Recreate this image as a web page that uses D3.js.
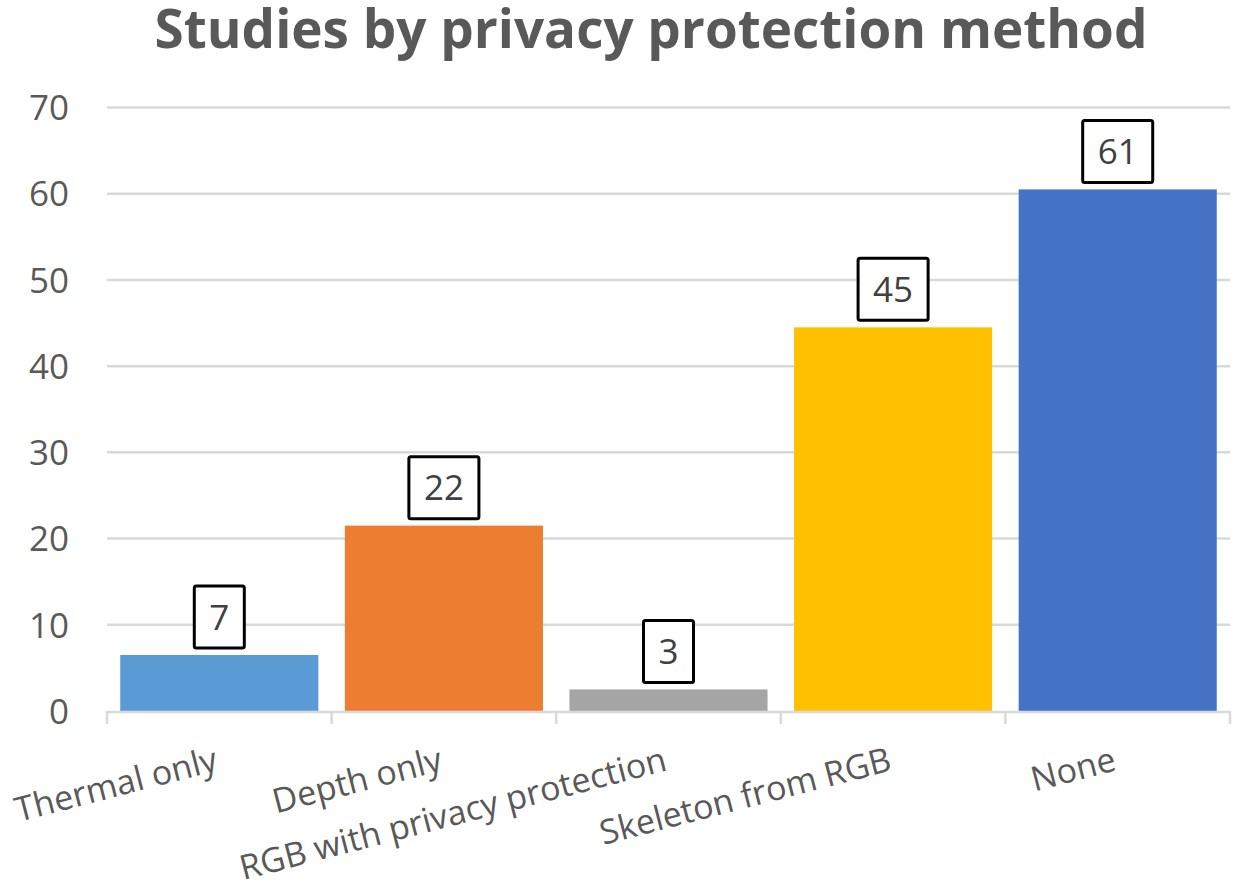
<!DOCTYPE html>
<html>
<head>
<meta charset="utf-8">
<script src="https://cdn.jsdelivr.net/npm/d3@7"></script>
<style>
  html, body { margin: 0; padding: 0; background: #ffffff; }
  svg { display: block; font-family: "Open Sans", "Liberation Sans", sans-serif; }
</style>
</head>
<body>
<svg id="chart" width="1237" height="886"></svg>
<script>
// ---- data ----
const categories = ["Thermal only", "Depth only", "RGB with privacy protection", "Skeleton from RGB", "None"];
const values = [6.5, 21.5, 2.5, 44.5, 60.5];
const labels = ["7", "22", "3", "45", "61"];
const colors = ["#5B9BD5", "#ED7D31", "#A5A5A5", "#FFC000", "#4472C4"];
const yTicks = [0, 10, 20, 30, 40, 50, 60, 70];
const title = "Studies by privacy protection method";

// ---- layout ----
const svg = d3.select("#chart");
const plot = { left: 107, right: 1230, top: 107.5, bottom: 711 };

const x = d3.scaleBand()
  .domain(categories)
  .range([plot.left, plot.right])
  .paddingInner(0.118)
  .paddingOuter(0.059);

const y = d3.scaleLinear()
  .domain([0, 70])
  .range([plot.bottom, plot.top]);

const grey = "#595959";
const lineGrey = "#D9D9D9";

// title
svg.append("text")
  .attr("x", 651)
  .attr("y", 48)
  .attr("text-anchor", "middle")
  .attr("font-size", 53)
  .attr("font-weight", "bold")
  .attr("fill", grey)
  .text(title);

// gridlines
svg.append("g")
  .selectAll("line")
  .data(yTicks.filter(t => t !== 0))
  .join("line")
  .attr("x1", plot.left)
  .attr("x2", plot.right)
  .attr("y1", d => y(d))
  .attr("y2", d => y(d))
  .attr("stroke", lineGrey)
  .attr("stroke-width", 2.5);

// y axis labels
const yAxis = d3.axisLeft(y).tickValues(yTicks).tickSize(0).tickPadding(0);
const yG = svg.append("g")
  .attr("transform", `translate(${69},0)`)
  .call(yAxis);
yG.select(".domain").remove();
yG.selectAll("text")
  .attr("font-size", 35)
  .attr("font-family", "'Open Sans', sans-serif")
  .attr("fill", grey)
  .attr("dy", "0.35em");

// bars
svg.append("g")
  .selectAll("rect")
  .data(categories)
  .join("rect")
  .attr("x", d => x(d))
  .attr("width", x.bandwidth())
  .attr("y", (d, i) => y(values[i]))
  .attr("height", (d, i) => y(0) - y(values[i]))
  .attr("fill", (d, i) => colors[i]);

// x axis line and ticks
const xAxisG = svg.append("g");
xAxisG.append("line")
  .attr("x1", plot.left)
  .attr("x2", plot.right)
  .attr("y1", y(0) + 1)
  .attr("y2", y(0) + 1)
  .attr("stroke", lineGrey)
  .attr("stroke-width", 2.5);
const tickXs = categories.map(c => x(c) - x.step() * x.paddingInner() / 2).concat([plot.right]);
tickXs[0] = plot.left;
xAxisG.selectAll("line.tick")
  .data(tickXs)
  .join("line")
  .attr("class", "tick")
  .attr("x1", d => d)
  .attr("x2", d => d)
  .attr("y1", y(0))
  .attr("y2", y(0) + 13)
  .attr("stroke", lineGrey)
  .attr("stroke-width", 2.5);

// x labels (rotated)
svg.append("g")
  .selectAll("text")
  .data(categories)
  .join("text")
  .attr("transform", d => `translate(${x(d) + x.bandwidth() / 2},${770}) rotate(-14.5)`)
  .attr("text-anchor", "end")
  .attr("font-size", 34)
  .attr("fill", grey)
  .text(d => d);

// data labels in boxes
const lblG = svg.append("g")
  .selectAll("g")
  .data(categories)
  .join("g");
lblG.each(function (d, i) {
  const g = d3.select(this);
  const cx = x(d) + x.bandwidth() / 2;
  const boxH = 62;
  const bottom = y(values[i]) - 7;
  const t = g.append("text")
    .attr("x", cx)
    .attr("y", bottom - boxH / 2)
    .attr("dy", "0.36em")
    .attr("text-anchor", "middle")
    .attr("font-size", 35)
    .attr("fill", "#404040")
    .text(labels[i]);
  const tw = t.node().getComputedTextLength();
  const bw = tw + 30;
  g.insert("rect", "text")
    .attr("x", cx - bw / 2)
    .attr("y", bottom - boxH)
    .attr("width", bw)
    .attr("height", boxH)
    .attr("rx", 2)
    .attr("fill", "#ffffff")
    .attr("stroke", "#000000")
    .attr("stroke-width", 3);
});
</script>
</body>
</html>
